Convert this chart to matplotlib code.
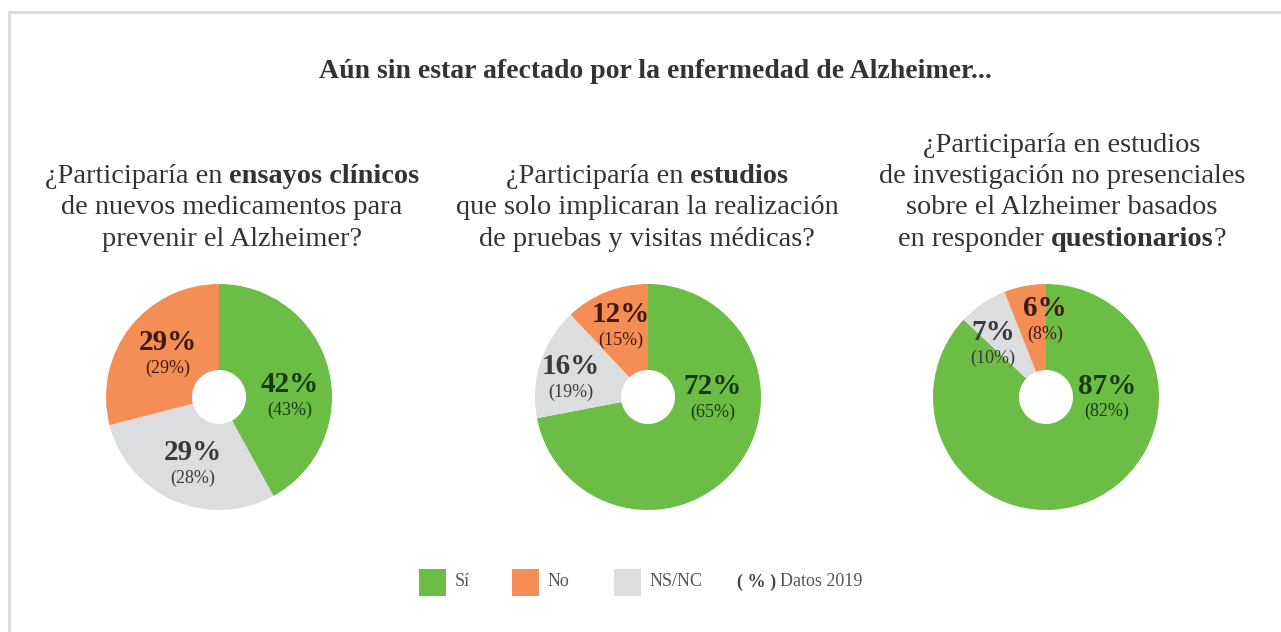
import matplotlib
matplotlib.use("Agg")
import matplotlib.pyplot as plt

# ── Data ──
CATEGORIES = ["Sí", "NS/NC", "No"]
VALUES_NOW = [
    [42, 29, 29],
    [72, 16, 12],
    [87, 7, 6],
]
VALUES_2019 = [
    [43, 28, 29],
    [65, 19, 15],
    [82, 10, 8],
]
TITLE = "Aún sin estar afectado por la enfermedad de Alzheimer..."
# each question: list of lines, each line a list of (text, bold)
QUESTIONS = [
    [[("¿Participaría en ", False), ("ensayos clínicos", True)],
     [("de nuevos medicamentos para", False)],
     [("prevenir el Alzheimer?", False)]],
    [[("¿Participaría en ", False), ("estudios", True)],
     [("que solo implicaran la realización", False)],
     [("de pruebas y visitas médicas?", False)]],
    [[("¿Participaría en estudios", False)],
     [("de investigación no presenciales", False)],
     [("sobre el Alzheimer basados", False)],
     [("en responder ", False), ("questionarios", True), ("?", False)]],
]

# ── Style ──
W, H = 1281, 632
COLORS = {"Sí": "#6cbd45", "NS/NC": "#dcdddf", "No": "#f58d57"}
TEXT_COLORS = {"Sí": "#173a0a", "NS/NC": "#3a3a3c", "No": "#3f1a07"}
SERIF = ["Liberation Serif", "DejaVu Serif"]
PIE_X = [219, 648, 1046]
PIE_Y = 397
RADIUS = 113
HOLE = 27
Q_X = [232, 647, 1062]
Q_BOTTOM = 239
LINE_H = 31.3
# label pair centres relative to pie centre (image px, y down)
LABEL_POS = [
    {"Sí": (71, 0), "No": (-51, -42), "NS/NC": (-26, 68)},
    {"Sí": (65, 2), "No": (-27, -70), "NS/NC": (-77, -18)},
    {"Sí": (61, 1), "No": (-1, -76), "NS/NC": (-53, -52)},
]

fig = plt.figure(figsize=(W / 100, H / 100), dpi=100)
ax = fig.add_axes([0, 0, 1, 1])


def fy(y):
    return H - y


for i, vals in enumerate(VALUES_NOW):
    ax.pie(vals, colors=[COLORS[c] for c in CATEGORIES], startangle=90,
           counterclock=False, center=(PIE_X[i], fy(PIE_Y)), radius=RADIUS,
           wedgeprops=dict(width=RADIUS - HOLE, linewidth=0))
    for j, cat in enumerate(CATEGORIES):
        dx, dy = LABEL_POS[i][cat]
        cx, cy = PIE_X[i] + dx, PIE_Y + dy
        ax.text(cx, fy(cy - 12), f"{vals[j]}%", ha="center", va="center",
                fontsize=21, fontweight="bold", family=SERIF,
                color=TEXT_COLORS[cat])
        ax.text(cx, fy(cy + 13), f"({VALUES_2019[i][j]}%)", ha="center",
                va="center", fontsize=13, family=SERIF,
                color=TEXT_COLORS[cat])

ax.set_xlim(0, W)
ax.set_ylim(0, H)
ax.set_aspect("auto")
ax.axis("off")

# frame lines (top and left)
ax.plot([8, W], [fy(12), fy(12)], color="#dcdcdc", lw=2.2, solid_capstyle="butt")
ax.plot([9, 9], [fy(12), 0], color="#dcdcdc", lw=2.2, solid_capstyle="butt")

# title
ax.text(655, fy(71), TITLE, ha="center", va="center", fontsize=20,
        fontweight="bold", family=SERIF, color="#333333")

# questions with mixed bold segments
fig.canvas.draw()
renderer = fig.canvas.get_renderer()
for i, lines in enumerate(QUESTIONS):
    n = len(lines)
    for k, segs in enumerate(lines):
        y = Q_BOTTOM - (n - 1 - k) * LINE_H
        arts = []
        for txt, bold in segs:
            t = ax.text(0, fy(y), txt, ha="left", va="center", fontsize=20.4,
                        family=SERIF, color="#333333",
                        fontweight="bold" if bold else "normal")
            arts.append(t)
        widths = [a.get_window_extent(renderer).width for a in arts]
        x = Q_X[i] - sum(widths) / 2
        for a, w in zip(arts, widths):
            a.set_x(x)
            x += w

# legend
LEG_Y = 582
for cat, sx in zip(["Sí", "No", "NS/NC"], [419, 512, 614]):
    ax.add_patch(plt.Rectangle((sx, fy(LEG_Y + 14)), 27, 27,
                               facecolor=COLORS[cat], edgecolor="none"))
    ax.text(sx + 36, fy(LEG_Y), cat, ha="left", va="center", fontsize=13,
            family=SERIF, color="#555555")
ax.text(737, fy(LEG_Y), "( % )", ha="left", va="center", fontsize=13,
        fontweight="bold", family=SERIF, color="#444444")
ax.text(780, fy(LEG_Y), "Datos 2019", ha="left", va="center", fontsize=13,
        family=SERIF, color="#555555")

fig.savefig("out.png", dpi=100)
